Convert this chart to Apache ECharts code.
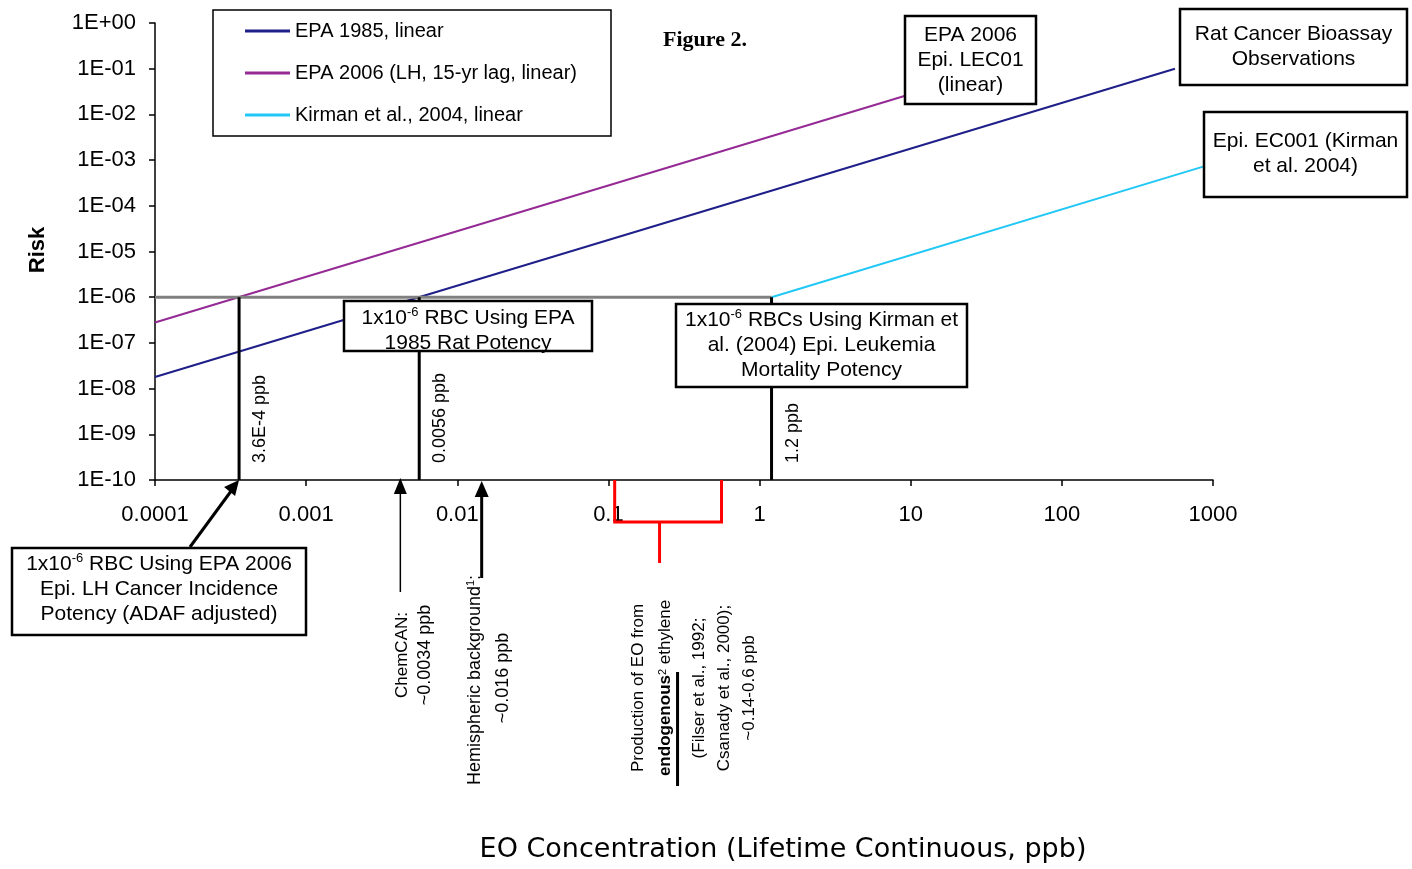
<!DOCTYPE html>
<html><head><meta charset="utf-8">
<script src="https://cdn.jsdelivr.net/npm/echarts@6/dist/echarts.min.js"></script>
<style>html,body{margin:0;padding:0;background:#fff}#c{width:1412px;height:869px}</style>
</head><body><div id="c"></div>
<script>
// ---- data ----
const xTickLabels = ['0.0001','0.001','0.01','0.1','1','10','100','1000'];
const yTickLabels = ['1E-10','1E-09','1E-08','1E-07','1E-06','1E-05','1E-04','1E-03','1E-02','1E-01','1E+00'];
const seriesNames = ['EPA 1985, linear','EPA 2006 (LH, 15-yr lag, linear)','Kirman et al., 2004, linear'];
const epa1985 = [[0.0001, 1.8e-8], [560, 0.1]];
const epa2006 = [[0.0001, 2.8e-7], [9.2, 0.0255]];
const kirman  = [[1.2, 1e-6], [860, 7.2e-4]];
const rbcLevel = [[0.0001, 1e-6], [1.2, 1e-6]];
const rbcConcs = [3.6e-4, 0.0056, 1.2];
const rbcLabels = ['3.6E-4 ppb', '0.0056 ppb', '1.2 ppb'];
const chemcanConc = 0.0042;
const hemisphericConc = 0.0145;
const endogenousRange = [0.11, 0.56];

const FONT = '"Liberation Sans", Arial, sans-serif';
const chart = echarts.init(document.getElementById('c'));

const verticalSeries = rbcConcs.map(c => ({
  type: 'line', data: [[c, 1e-10], [c, 1e-6]], symbol: 'none', silent: true,
  lineStyle: { color: '#000', width: 3 }, z: 4
}));

chart.setOption({
  animation: false,
  backgroundColor: '#fff',
  grid: { left: 155, right: 199, top: 23, bottom: 389, containLabel: false },
  legend: {
    data: seriesNames, orient: 'vertical', left: 240, top: 16,
    itemWidth: 45, itemHeight: 3, icon: 'rect', itemGap: 22,
    textStyle: { fontFamily: FONT, fontSize: 20, color: '#000' }
  },
  xAxis: {
    type: 'log', logBase: 10, min: 0.0001, max: 1000, interval: 1,
    axisLine: { lineStyle: { color: '#000', width: 1.5 } },
    axisTick: { show: true, inside: false, length: 6, lineStyle: { color: '#000', width: 1.5 } },
    axisLabel: { margin: 24, fontFamily: FONT, fontSize: 22, color: '#000',
      formatter: v => xTickLabels[Math.round(Math.log10(v)) + 4] },
    splitLine: { show: false }
  },
  yAxis: {
    type: 'log', logBase: 10, min: 1e-10, max: 1, interval: 1,
    axisLine: { show: true, lineStyle: { color: '#000', width: 1.5 } },
    axisTick: { show: true, inside: false, length: 6, lineStyle: { color: '#000', width: 1.5 } },
    axisLabel: { margin: 19, fontFamily: FONT, fontSize: 22, color: '#000',
      formatter: v => yTickLabels[Math.round(Math.log10(v)) + 10] },
    splitLine: { show: false }
  },
  series: [
    { name: seriesNames[0], type: 'line', data: epa1985, symbol: 'none', lineStyle: { color: '#1f1f8a', width: 2 }, itemStyle: { color: '#1f1f8a' }, z: 3 },
    { name: seriesNames[1], type: 'line', data: epa2006, symbol: 'none', lineStyle: { color: '#952a95', width: 2 }, itemStyle: { color: '#952a95' }, z: 3 },
    { name: seriesNames[2], type: 'line', data: kirman, symbol: 'none', lineStyle: { color: '#22c8f5', width: 2 }, itemStyle: { color: '#22c8f5' }, z: 3 },
    { type: 'line', data: rbcLevel, symbol: 'none', silent: true, lineStyle: { color: '#808080', width: 3 }, z: 3 }
  ].concat(verticalSeries)
});

// ---- annotations ----
const px = (x, y) => chart.convertToPixel({ xAxisIndex: 0, yAxisIndex: 0 }, [x, y]);
const axisY = px(1, 1e-10)[1];
const g = [];
const rich = {
  n: { fontFamily: FONT, fontSize: 21, color: '#000', lineHeight: 25 },
  s: { fontFamily: FONT, fontSize: 13, color: '#000', lineHeight: 25, verticalAlign: 'top' }
};
function box(x, y, w, h, text, dy) {
  g.push({ type: 'rect', shape: { x, y, width: w, height: h }, style: { fill: '#fff', stroke: '#000', lineWidth: 2.5 }, z: 20 });
  g.push({ type: 'text', x: x + w / 2, y: y + h / 2 + (dy || 0), z: 21,
    style: { text, rich, fontFamily: FONT, fontSize: 21, fill: '#000', align: 'center', verticalAlign: 'middle', lineHeight: 25 } });
}
function rtext(x, y, text, align, size, extra) {
  g.push(Object.assign({ type: 'text', x, y, rotation: Math.PI / 2, z: 21,
    style: { text, fontFamily: FONT, fontSize: size || 18, fill: '#000', align: align || 'center', verticalAlign: 'middle' } }, extra || {}));
}
function arrowHead(tx, ty, w, h) {
  g.push({ type: 'polygon', shape: { points: [[tx, ty], [tx - w / 2, ty + h], [tx + w / 2, ty + h]] }, style: { fill: '#000' }, z: 22 });
}

// legend frame
g.push({ type: 'rect', shape: { x: 213, y: 10, width: 398, height: 126 }, style: { fill: 'none', stroke: '#000', lineWidth: 1.5 }, z: 1 });
// figure title
g.push({ type: 'text', x: 705, y: 40, style: { text: 'Figure 2.', fontFamily: '"Liberation Serif", "Times New Roman", serif', fontWeight: 'bold', fontSize: 22, fill: '#000', align: 'center', verticalAlign: 'middle' } });
// y axis name
rtext(38, 250, 'Risk', 'center', 22, {});
g[g.length - 1].style.fontWeight = 'bold';
// x axis name
g.push({ type: 'text', x: 783, y: 850, style: { text: 'EO Concentration (Lifetime Continuous, ppb)', fontFamily: '"DejaVu Sans", sans-serif', fontSize: 27, fill: '#000', align: 'center', verticalAlign: 'middle' } });

// boxes
box(905, 16, 131, 88, 'EPA 2006\nEpi. LEC01\n(linear)', 0);
box(1180, 9, 227, 76, 'Rat Cancer Bioassay\nObservations', 0);
box(1204, 112, 203, 85, 'Epi. EC001 (Kirman\net al. 2004)', -1);
box(344, 301, 248, 50, '{n|1x10}{s|-6}{n| RBC Using EPA}\n{n|1985 Rat Potency}', 5);
box(676, 304, 291, 83, '{n|1x10}{s|-6}{n| RBCs Using Kirman et}\n{n|al. (2004) Epi. Leukemia}\n{n|Mortality Potency}', 0);
box(12, 548, 294, 87, '{n|1x10}{s|-6}{n| RBC Using EPA 2006}\n{n|Epi. LH Cancer Incidence}\n{n|Potency (ADAF adjusted)}', -2);

// labels beside the RBC verticals
rbcConcs.forEach((c, i) => {
  const p = px(c, 1e-10);
  rtext(p[0] + 21, axisY - 17, rbcLabels[i], 'left', 18);
});

// diagonal arrow to 3.6E-4
const a0 = px(rbcConcs[0], 1e-10);
g.push({ type: 'line', shape: { x1: 190, y1: 547, x2: a0[0] - 5, y2: a0[1] + 7 }, style: { stroke: '#000', lineWidth: 3 }, z: 22 });
g.push({ type: 'polygon', shape: { points: [[a0[0], a0[1]], [a0[0] - 15, a0[1] + 7], [a0[0] - 4, a0[1] + 16]] }, style: { fill: '#000' }, z: 22 });

// ChemCAN arrow
const cc = px(chemcanConc, 1e-10);
g.push({ type: 'line', shape: { x1: cc[0], y1: 592, x2: cc[0], y2: axisY + 10 }, style: { stroke: '#000', lineWidth: 1.5 }, z: 22 });
arrowHead(cc[0], axisY - 2, 13, 16);
rtext(cc[0] + 2, 655, 'ChemCAN:', 'center', 17);
rtext(cc[0] + 25, 655, '~0.0034 ppb', 'center', 18);

// Hemispheric arrow
const hb = px(hemisphericConc, 1e-10);
g.push({ type: 'line', shape: { x1: hb[0], y1: 578, x2: hb[0], y2: axisY + 10 }, style: { stroke: '#000', lineWidth: 3 }, z: 22 });
arrowHead(hb[0], axisY + 1, 14, 16);
g.push({ type: 'text', x: hb[0] - 7, y: 680, rotation: Math.PI / 2, z: 21,
  style: { text: '{n|Hemispheric background}{s|1}{n|:}', rich: { n: { fontFamily: FONT, fontSize: 18, fill: '#000' }, s: { fontFamily: FONT, fontSize: 11, fill: '#000', verticalAlign: 'top' } }, align: 'center', verticalAlign: 'middle' } });
rtext(hb[0] + 21, 678, '~0.016 ppb', 'center', 18);

// endogenous bracket
const e1 = px(endogenousRange[0], 1e-10)[0];
const e2 = px(endogenousRange[1], 1e-10)[0];
const em = e1 + 0.42 * (e2 - e1);
g.push({ type: 'polyline', shape: { points: [[e1, axisY], [e1, axisY + 42], [e2, axisY + 42], [e2, axisY]] }, style: { stroke: '#ff0000', lineWidth: 3, fill: 'none' }, z: 22 });
g.push({ type: 'line', shape: { x1: em, y1: axisY + 42, x2: em, y2: axisY + 83 }, style: { stroke: '#ff0000', lineWidth: 3 }, z: 22 });
const prodLines = [
  [em - 21, 'Production of EO from'],
  [em + 40, '(Filser et al., 1992;'],
  [em + 65, 'Csanady et al., 2000);'],
  [em + 90, '~0.14-0.6 ppb']
];
prodLines.forEach(([x, t]) => rtext(x, 688, t, 'center', 17));
g.push({ type: 'text', x: em + 6, y: 688, rotation: Math.PI / 2, z: 21,
  style: { text: '{b|endogenous}{s|2}{n| ethylene}', rich: {
    b: { fontFamily: FONT, fontSize: 17, fontWeight: 'bold', fill: '#000' },
    s: { fontFamily: FONT, fontSize: 11, fill: '#000', verticalAlign: 'top' },
    n: { fontFamily: FONT, fontSize: 17, fill: '#000' } }, align: 'center', verticalAlign: 'middle' } });
g.push({ type: 'line', shape: { x1: em + 18, y1: 786, x2: em + 18, y2: 672 }, style: { stroke: '#000', lineWidth: 3 }, z: 22 });

chart.setOption({ graphic: g });
</script></body></html>
